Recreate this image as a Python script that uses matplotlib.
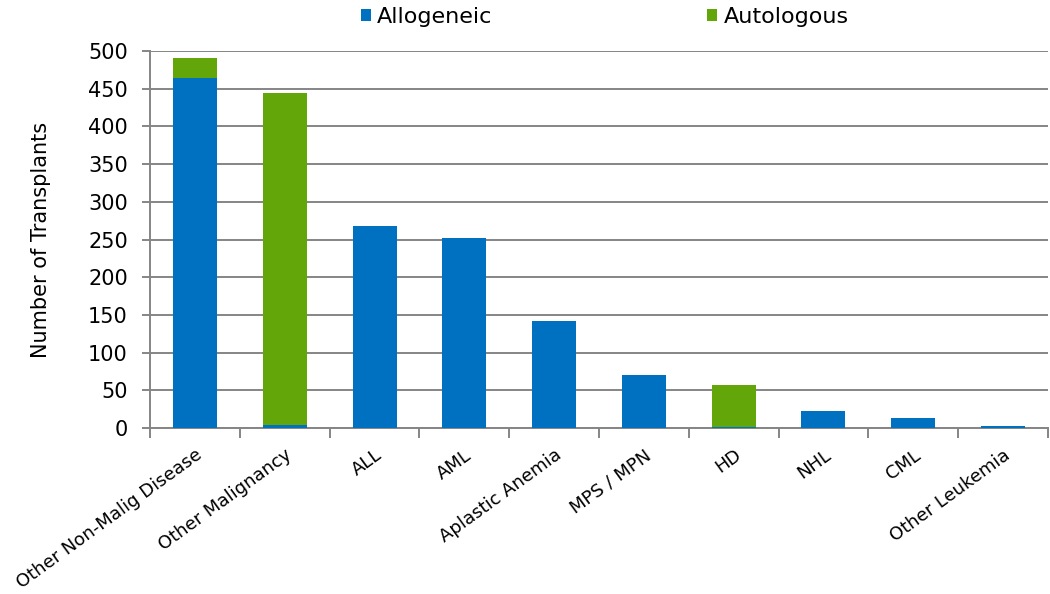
import matplotlib
matplotlib.use("Agg")
import matplotlib.pyplot as plt
import matplotlib.transforms as mtransforms
import numpy as np

plt.rcParams['font.family'] = ['DejaVu Sans']

categories = ["Other Non-Malig Disease", "Other Malignancy", "ALL", "AML",
              "Aplastic Anemia", "MPS / MPN", "HD", "NHL", "CML", "Other Leukemia"]
allogeneic = [464, 4, 268, 252, 142, 70, 1, 22, 13, 2]
autologous = [27, 440, 0, 0, 0, 0, 56, 1, 0, 0]
yticks = [0, 50, 100, 150, 200, 250, 300, 350, 400, 450, 500]

blue = "#0070C0"
green = "#62A60A"
gray = "#858585"

fig = plt.figure(figsize=(10.5, 5.94), dpi=100)
ax = fig.add_axes([0.143, 0.2795, 0.855, 0.6345])

x = np.arange(len(categories))
ax.bar(x, allogeneic, width=0.49, color=blue, label="Allogeneic", zorder=3)
ax.bar(x, autologous, width=0.49, bottom=allogeneic, color=green, label="Autologous", zorder=3)

ax.set_xlim(-0.5, len(categories) - 0.5)
ax.set_ylim(0, 500)
ax.set_yticks(yticks)
ax.set_yticklabels([str(v) for v in yticks], fontsize=15)
ax.yaxis.grid(True, color=gray, linewidth=1.4, zorder=0)
ax.set_axisbelow(True)

ax.set_xticks(np.arange(-0.5, len(categories) + 0.5, 1.0), minor=False)
ax.set_xticklabels([])
ax.set_xticks(x, minor=True)
ax.set_xticklabels(categories, minor=True, rotation=36, ha="right", va="top",
                   rotation_mode="anchor", fontsize=13)
offset = mtransforms.ScaledTranslation(5 / 100, 0, fig.dpi_scale_trans)
for lab in ax.get_xticklabels(minor=True):
    lab.set_transform(lab.get_transform() + offset)
ax.tick_params(axis="x", which="minor", length=0, pad=13)
ax.tick_params(axis="x", which="major", length=7, color=gray, width=1.4)
ax.tick_params(axis="y", length=6, color=gray, width=1.4, labelsize=15, pad=10)

for s in ["top", "right"]:
    ax.spines[s].set_visible(False)
for s in ["left", "bottom"]:
    ax.spines[s].set_color(gray)
    ax.spines[s].set_linewidth(1.4)

ax.set_ylabel("Number of Transplants", fontsize=15)
ax.yaxis.set_label_coords(-0.110, 0.5)

leg = fig.legend(loc="upper center", bbox_to_anchor=(0.576, 1.022), ncol=2, frameon=False,
                 fontsize=16, handlelength=0.45, handleheight=0.45, columnspacing=9.66,
                 handletextpad=0.3)

fig.savefig("out.png", dpi=100)
